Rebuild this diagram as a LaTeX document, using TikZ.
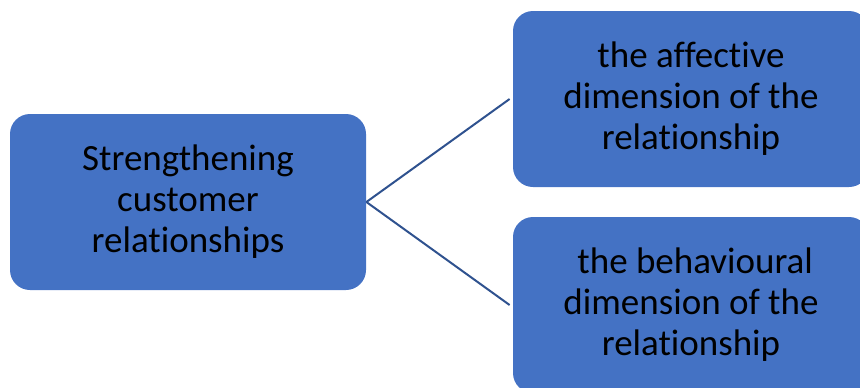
\documentclass[tikz,border=0pt]{standalone}
\usepackage{fontspec}
\setmainfont{Carlito}[Ligatures=NoCommon]
\usepackage{xcolor}
\usetikzlibrary{positioning}
\definecolor{boxblue}{HTML}{4472C4}
\definecolor{lineblue}{HTML}{2F528F}

\begin{document}
\begin{tikzpicture}[
x=0.5pt, y=-0.5pt,
box/.style={rectangle, fill=boxblue, rounded corners=10pt, minimum width=178pt, minimum height=88pt, align=center, font=\fontsize{18.5}{20.5}\selectfont, inner sep=0pt},
link/.style={draw=lineblue, line width=1pt},
]

% Frame
\clip (0,0) rectangle (860,387);

% Boxes
\node[box] (strength) at (188,202) {Strengthening\\customer\\relationships};
\node[box] (affective) at (691,99) {the affective\\dimension of the\\relationship};
\node[box] (behaviour) at (691,305) {~the behavioural\\dimension of the\\relationship};

% Lines
\draw[link] (strength.east) -- ([xshift=-1.5pt]affective.west);
\draw[link] (strength.east) -- ([xshift=-1.5pt]behaviour.west);

\end{tikzpicture}
\end{document}
